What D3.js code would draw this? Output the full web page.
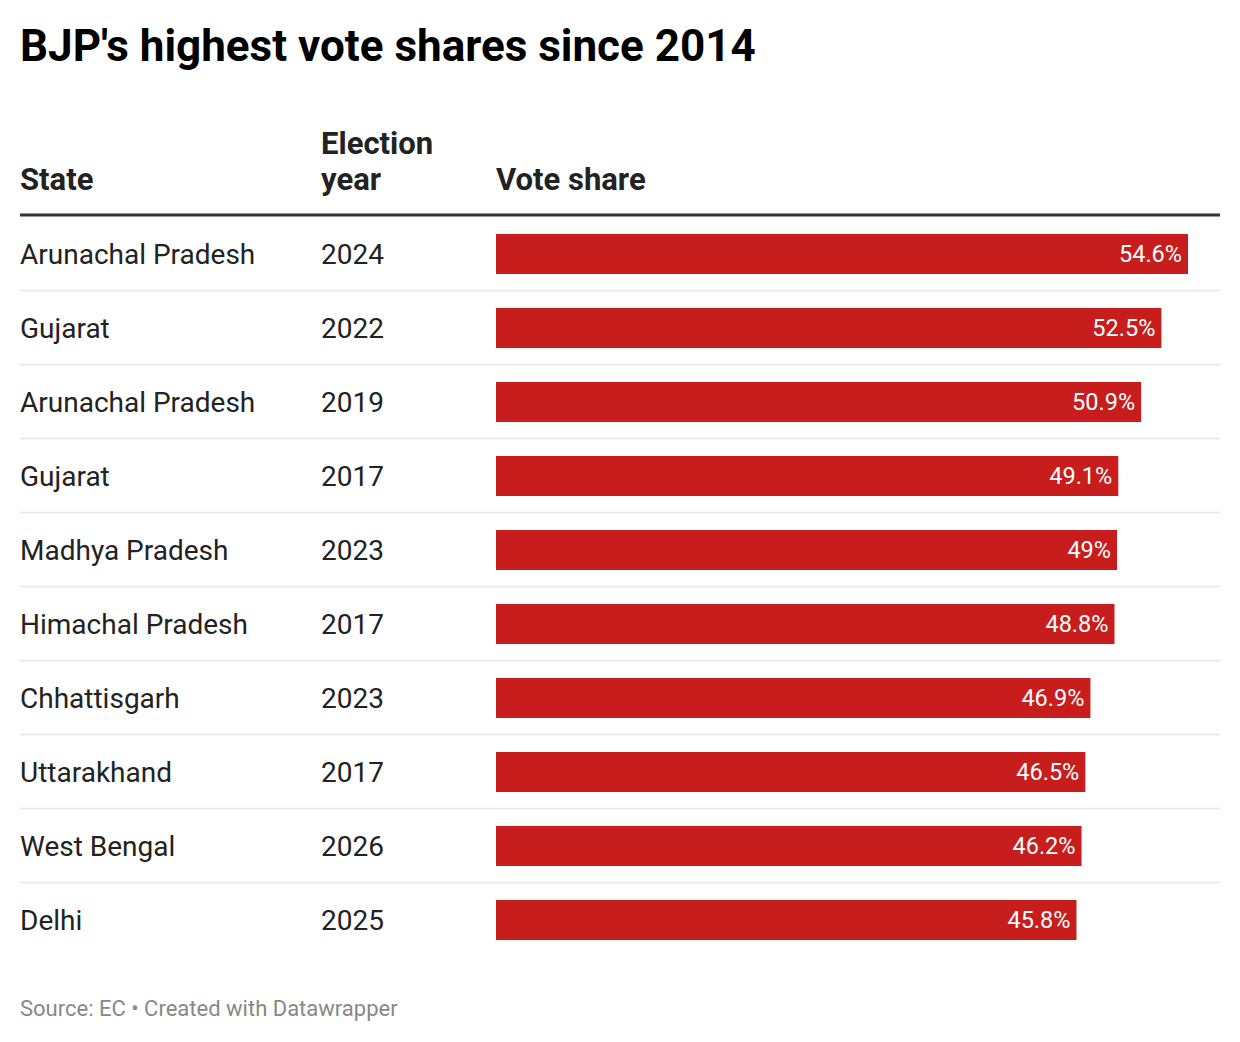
<!DOCTYPE html>
<html>
<head>
<meta charset="utf-8">
<script src="https://cdn.jsdelivr.net/npm/d3@7"></script>
<style>
  body { margin: 0; background: #fff; }
  svg { display: block; font-family: Roboto, sans-serif; }
</style>
</head>
<body>
<svg id="chart" width="1240" height="1042"></svg>
<script>
// Table rows, top to bottom.
const states = ['Arunachal Pradesh', 'Gujarat', 'Arunachal Pradesh', 'Gujarat',
  'Madhya Pradesh', 'Himachal Pradesh', 'Chhattisgarh', 'Uttarakhand',
  'West Bengal', 'Delhi'];
const years = ['2024', '2022', '2019', '2017', '2023', '2017', '2023', '2017',
  '2026', '2025'];
const voteShares = [54.6, 52.5, 50.9, 49.1, 49, 48.8, 46.9, 46.5, 46.2, 45.8];
const headers = [['State'], ['Election', 'year'], ['Vote share']];

const svg = d3.select('#chart');
const left = 20;
const right = 1220;
const barX = 496;
const yearX = 321;
const bodyTop = 217;
const rowH = 74;

svg.append('text')
    .attr('x', left).attr('y', 61)
    .attr('font-size', 44).attr('font-weight', 700).attr('fill', '#000')
    .text('BJP\'s highest vote shares since 2014');

// Header: multi-line labels sit on a shared bottom baseline.
const headerX = [left, yearX, barX];
headers.forEach((lines, i) => {
  lines.forEach((line, j) => {
    svg.append('text')
        .attr('x', headerX[i])
        .attr('y', 190 - (lines.length - 1 - j) * 36)
        .attr('font-size', 31).attr('font-weight', 700).attr('fill', '#222')
        .text(line);
  });
});

svg.append('line')
    .attr('x1', left).attr('x2', right)
    .attr('y1', 215).attr('y2', 215)
    .attr('stroke', '#333').attr('stroke-width', 3);

const y = d3.scaleBand()
    .domain(d3.range(states.length))
    .range([bodyTop, bodyTop + rowH * states.length]);

// Bar length: 54.6% spans ~692px.
const x = d3.scaleLinear().domain([0, 54.6]).range([0, 692]);

const rows = svg.selectAll('g.row')
    .data(voteShares)
    .join('g')
    .attr('class', 'row')
    .attr('transform', (d, i) => `translate(0,${y(i)})`);

rows.filter((d, i) => i < states.length - 1)
    .append('line')
    .attr('x1', left).attr('x2', right)
    .attr('y1', rowH - 0.5).attr('y2', rowH - 0.5)
    .attr('stroke', '#e6e6e6').attr('stroke-width', 1.5);

rows.append('text')
    .attr('x', left).attr('y', 47)
    .attr('font-size', 28).attr('fill', '#222')
    .text((d, i) => states[i]);

rows.append('text')
    .attr('x', yearX).attr('y', 47)
    .attr('font-size', 28).attr('fill', '#222')
    .text((d, i) => years[i]);

rows.append('rect')
    .attr('x', barX).attr('y', 17)
    .attr('width', d => x(d)).attr('height', 40)
    .attr('fill', '#c71e1d');

rows.append('text')
    .attr('x', d => barX + x(d) - 6).attr('y', 45)
    .attr('text-anchor', 'end')
    .attr('font-size', 23.5).attr('fill', '#fff')
    .text(d => `${d}%`);

svg.append('text')
    .attr('x', left).attr('y', 1016)
    .attr('font-size', 22).attr('fill', '#888')
    .text('Source: EC \u2022 Created with Datawrapper');
</script>
</body>
</html>
